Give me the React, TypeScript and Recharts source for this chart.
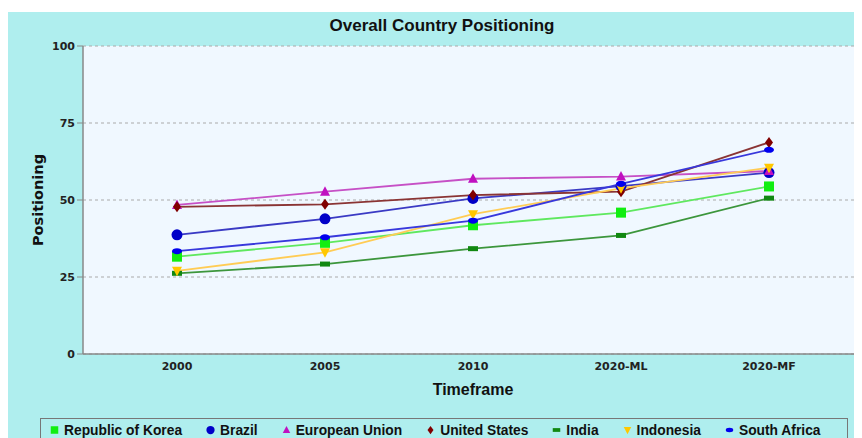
import React from "react";
import { LineChart, Line, XAxis, YAxis, CartesianGrid } from "recharts";

const timeframes = ["2000", "2005", "2010", "2020-ML", "2020-MF"];
const yTicks = [0, 25, 50, 75, 100];

const korea = [31.6, 36.1, 41.8, 45.9, 54.4];
const brazil = [38.7, 43.9, 50.5, 54.5, 58.9];
const europeanUnion = [48.4, 52.7, 56.9, 57.6, 59.4];
const unitedStates = [47.8, 48.6, 51.6, 52.7, 68.7];
const india = [26.2, 29.2, 34.2, 38.5, 50.6];
const indonesia = [27.0, 33.0, 45.4, 53.8, 60.5];
const southAfrica = [33.4, 37.9, 43.3, 55.2, 66.3];

type Shape = "square" | "circle" | "triUp" | "diamond" | "bar" | "triDown" | "ellipse";

const series: { key: string; name: string; values: number[]; line: string; mark: string; shape: Shape }[] = [
  { key: "korea", name: "Republic of Korea", values: korea, line: "#5fe85f", mark: "#11ee11", shape: "square" },
  { key: "brazil", name: "Brazil", values: brazil, line: "#3a3ac4", mark: "#0000c8", shape: "circle" },
  { key: "eu", name: "European Union", values: europeanUnion, line: "#c650c6", mark: "#c010c0", shape: "triUp" },
  { key: "us", name: "United States", values: unitedStates, line: "#8a3434", mark: "#800000", shape: "diamond" },
  { key: "india", name: "India", values: india, line: "#3c963c", mark: "#118811", shape: "bar" },
  { key: "indonesia", name: "Indonesia", values: indonesia, line: "#ffcc55", mark: "#ffc800", shape: "triDown" },
  { key: "sa", name: "South Africa", values: southAfrica, line: "#3838dc", mark: "#0000ee", shape: "ellipse" },
];

const data = timeframes.map((t, i) => {
  const row: Record<string, string | number> = { t };
  series.forEach((s) => (row[s.key] = s.values[i]));
  return row;
});

function Marker({ shape, color, cx, cy, scale = 1 }: { shape: Shape; color: string; cx: number; cy: number; scale?: number }) {
  const k = scale;
  switch (shape) {
    case "square":
      return <rect x={cx - 5 * k} y={cy - 5 * k} width={10 * k} height={10 * k} fill={color} />;
    case "circle":
      return <circle cx={cx} cy={cy} r={5.5 * k} fill={color} />;
    case "triUp":
      return <polygon points={`${cx},${cy - 5.5 * k} ${cx + 5 * k},${cy + 4 * k} ${cx - 5 * k},${cy + 4 * k}`} fill={color} />;
    case "diamond":
      return <polygon points={`${cx},${cy - 5.5 * k} ${cx + 4 * k},${cy} ${cx},${cy + 5.5 * k} ${cx - 4 * k},${cy}`} fill={color} />;
    case "bar":
      return <rect x={cx - 5 * k} y={cy - 2.5 * k} width={10 * k} height={5 * k} fill={color} />;
    case "triDown":
      return <polygon points={`${cx - 5 * k},${cy - 4 * k} ${cx + 5 * k},${cy - 4 * k} ${cx},${cy + 5.5 * k}`} fill={color} />;
    default:
      return <ellipse cx={cx} cy={cy} rx={5 * k} ry={3 * k} fill={color} />;
  }
}

const tickStyle = { fontFamily: "DejaVu Sans", fontWeight: 700, fontSize: 11, fill: "#222" };

export default function App() {
  return (
    <div style={{ paddingTop: 4 }}>
      <div style={{ position: "relative", width: 854, height: 426, overflow: "hidden", background: "#afeeee" }}>
        <div
          style={{
            position: "absolute",
            left: 0,
            top: 4,
            width: 868,
            textAlign: "center",
            fontFamily: "Liberation Sans",
            fontWeight: 700,
            fontSize: 17,
            lineHeight: "20px",
            color: "#111",
          }}
        >
          Overall Country Positioning
        </div>
        <LineChart width={870} height={426} data={data} margin={{ top: 34, right: 15, left: 0, bottom: 34 }}>
          <CartesianGrid vertical={false} stroke="#aaa" strokeDasharray="3 3" fill="#f0f8ff" />
          <XAxis
            dataKey="t"
            padding={{ left: 94, right: 94 }}
            tickLine={false}
            axisLine={{ stroke: "#888", strokeWidth: 1.5 }}
            tick={tickStyle}
            height={50}
            label={{
              value: "Timeframe",
              position: "insideBottom",
              offset: 9,
              style: { fontFamily: "Liberation Sans", fontWeight: 700, fontSize: 16, fill: "#111" },
            }}
          />
          <YAxis
            domain={[0, 100]}
            ticks={yTicks}
            width={75}
            tickSize={6}
            tickLine={{ stroke: "#888" }}
            axisLine={{ stroke: "#888", strokeWidth: 1.5 }}
            tick={tickStyle}
            label={{
              value: "Positioning",
              angle: -90,
              position: "insideLeft",
              offset: 30,
              style: { textAnchor: "middle", fontFamily: "DejaVu Sans", fontWeight: 700, fontSize: 14.5, fill: "#111" },
            }}
          />
          {series.map((s) => (
            <Line
              key={s.key}
              dataKey={s.key}
              name={s.name}
              stroke={s.line}
              strokeWidth={1.8}
              isAnimationActive={false}
              dot={(p: any) => <Marker key={`${s.key}-${p.index}`} shape={s.shape} color={s.mark} cx={p.cx} cy={p.cy} />}
              activeDot={false}
            />
          ))}
        </LineChart>
        <div
          style={{
            position: "absolute",
            left: 32,
            top: 406,
            width: 808,
            height: 24,
            border: "1px solid #777",
            display: "flex",
            alignItems: "center",
            gap: 24,
            paddingLeft: 9,
            boxSizing: "border-box",
            whiteSpace: "nowrap",
            fontFamily: "Liberation Sans",
            fontWeight: 700,
            fontSize: 13.8,
            lineHeight: "15px",
            color: "#111",
          }}
        >
          {series.map((s) => (
            <div key={s.key} style={{ display: "flex", alignItems: "center", gap: 5, flexShrink: 0 }}>
              <svg width={9} height={10}>
                <Marker shape={s.shape} color={s.mark} cx={4.5} cy={5} scale={0.75} />
              </svg>
              <span>{s.name}</span>
            </div>
          ))}
        </div>
      </div>
    </div>
  );
}
